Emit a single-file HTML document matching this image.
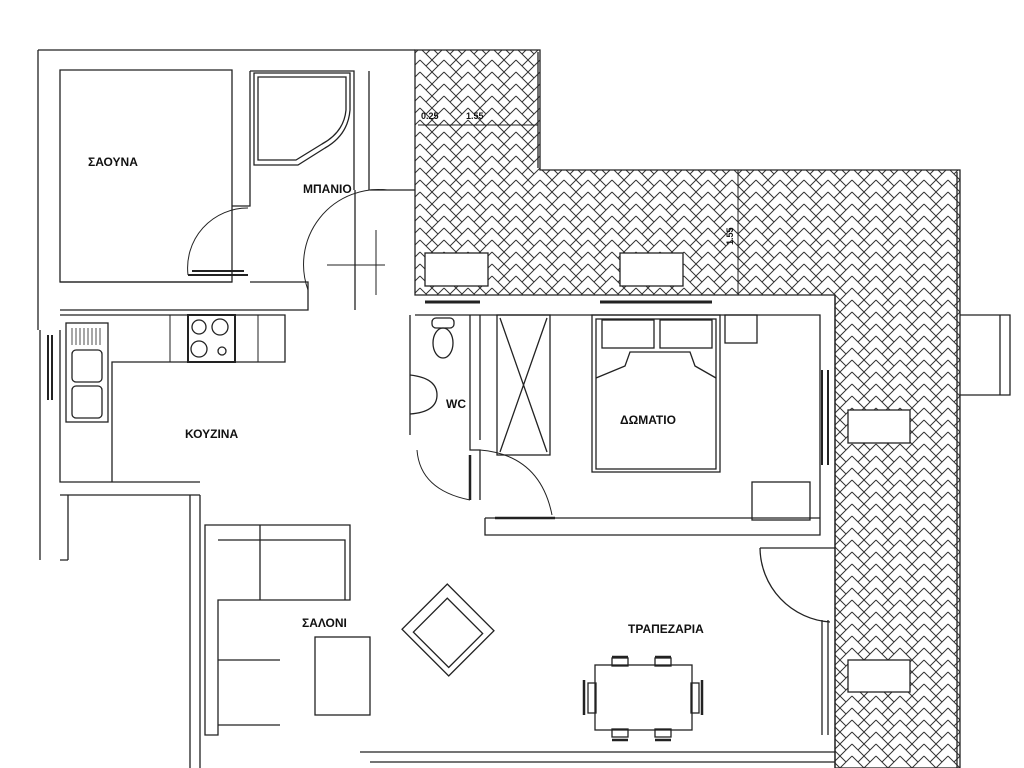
<!DOCTYPE html>
<html><head><meta charset="utf-8"><style>
html,body{margin:0;padding:0;background:#fff;}
svg{display:block}
text{font-family:"Liberation Sans",sans-serif;font-weight:bold;font-size:12px;fill:#111}
</style></head><body>
<svg width="1024" height="768" viewBox="0 0 1024 768" xmlns="http://www.w3.org/2000/svg">
<defs>
<pattern id="hb" width="24" height="12" patternUnits="userSpaceOnUse">
<path d="M0 12 L12 0 L24 12 M0 0 L6 6 M24 0 L18 6 M6 18 L12 12 M12 12 L18 18 M-6 6 L0 12 M30 6 L24 12" fill="none" stroke="#333" stroke-width="1"/>
</pattern>
</defs>
<g fill="none" stroke="#222" stroke-width="1.3">
<path d="M415 50 H540 V170 H960 V768 H835 V295 H415 Z" fill="url(#hb)" stroke="#222"/>
<path d="M538 52 V168 M957 172 V768"/>
<rect x="425" y="253" width="63" height="33" fill="#fff"/>
<rect x="620" y="253" width="63" height="33" fill="#fff"/>
<rect x="848" y="410" width="62" height="33" fill="#fff"/>
<rect x="848" y="660" width="62" height="32" fill="#fff"/>
<path d="M418 125 H538 M738 170 V295" stroke-width="1"/>
<path d="M960 315 H1010 V395 H960 M1000 315 V395"/>
<path d="M38 50 H415 M38 50 V330 M60 70 H232 V282 H60 Z"/>
<path d="M250 71 H354 V190 M369 71 V190 M250 71 V206 H232 M370 190 H415"/>
<path d="M254 73 H350 V110 Q348 135 325 148 L298 165 H254 Z M258 77 H346 V110 Q344 132 322 144 L296 160 H258 Z"/>
<path d="M60 282 H232 M250 282 H308 V310 H60 M290 282 H308"/>
<path d="M188 275 H248 M192 271 H244" stroke-width="2"/>
<path d="M188 275 A60 60 0 0 1 248 208" stroke-width="1"/>
<path d="M308 290 A75 75 0 0 1 387 190 M327 265 H385 M376 230 V295" stroke-width="1"/>
<path d="M355 190 V310"/>
<path d="M40 330 V560 M60 330 V482 H200 M60 315 H285 V362 H112 V482"/>
<path d="M48 335 V400 M52 335 V400" stroke-width="2"/>
<rect x="66" y="323" width="42" height="99"/>
<rect x="72" y="350" width="30" height="32" rx="4"/><rect x="72" y="386" width="30" height="32" rx="4"/>
<path d="M72 328 V345 M76 328 V345 M80 328 V345 M84 328 V345 M88 328 V345 M92 328 V345 M96 328 V345 M100 328 V345" stroke-width="0.8"/>
<rect x="188" y="315" width="47" height="47" stroke-width="2"/>
<circle cx="199" cy="327" r="7"/><circle cx="220" cy="327" r="8"/><circle cx="199" cy="349" r="8"/><circle cx="222" cy="351" r="4"/>
<path d="M170 315 V362 M258 315 V362" stroke-width="1"/>
<path d="M60 495 H190 V768 M68 495 V560 M200 495 V768 M60 560 H68 M200 495 H190"/>
<path d="M415 315 H820 V518 H485 M835 295 V768 M820 518 V535 H485 V518"/>
<path d="M425 302 H480 M600 302 H712" stroke-width="3"/>
<path d="M410 315 V435 M470 315 V450 H480 V500 M480 315 V440"/>
<path d="M417 450 Q420 490 470 500 M480 450 Q540 455 552 515" stroke-width="1"/>
<path d="M470 455 V500 M495 518 H555" stroke-width="2.5"/>
<rect x="432" y="318" width="22" height="10" rx="4"/><ellipse cx="443" cy="343" rx="10" ry="15"/>
<path d="M410 375 Q437 378 437 395 Q437 412 410 414"/>
<rect x="497" y="315" width="53" height="140"/><path d="M500 318 L547 452 M547 318 L500 452"/>
<rect x="592" y="315" width="128" height="157"/><rect x="596" y="319" width="120" height="150"/>
<rect x="602" y="320" width="52" height="28"/><rect x="660" y="320" width="52" height="28"/>
<path d="M596 378 L625 366 L630 352 L690 352 L695 366 L716 378"/>
<rect x="725" y="315" width="32" height="28"/><rect x="752" y="482" width="58" height="38"/>
<path d="M822 370 V465 M828 370 V465" stroke-width="2"/>
<path d="M760 548 H835 M760 548 A75 75 0 0 0 830 622 M822 620 V735 M828 620 V735"/>
<path d="M360 752 H835 M370 762 H835"/>
<path d="M205 525 H350 V600 H218 V735 H205 Z M218 540 H345 V600 M218 660 H280 M218 725 H280 M260 525 V600"/>
<rect x="315" y="637" width="55" height="78"/>
<g transform="rotate(45 448 630)"><rect x="415" y="598" width="66" height="64"/><rect x="425" y="608" width="50" height="48"/></g>
<rect x="595" y="665" width="97" height="65"/>
<path d="M612 657 H628 M655 657 H671 M612 740 H628 M655 740 H671 M584 680 V715 M702 680 V715" stroke-width="2.5"/>
<rect x="612" y="658" width="16" height="8"/><rect x="655" y="658" width="16" height="8"/>
<rect x="612" y="729" width="16" height="8"/><rect x="655" y="729" width="16" height="8"/>
<rect x="588" y="683" width="8" height="30"/><rect x="691" y="683" width="8" height="30"/>
</g>
<text x="88" y="166">ΣΑΟΥΝΑ</text>
<text x="303" y="193">ΜΠΑΝΙΟ</text>
<text x="185" y="438">ΚΟΥΖΙΝΑ</text>
<text x="446" y="408">WC</text>
<text x="620" y="424">ΔΩΜΑΤΙΟ</text>
<text x="302" y="627">ΣΑΛΟΝΙ</text>
<text x="628" y="633">ΤΡΑΠΕΖΑΡΙΑ</text>
<text x="421" y="119" style="font-size:9px">0.25</text>
<text x="466" y="119" style="font-size:9px">1.55</text>
<text x="0" y="0" style="font-size:9px" transform="translate(733 245) rotate(-90)">1.55</text>
</svg>
</body></html>
